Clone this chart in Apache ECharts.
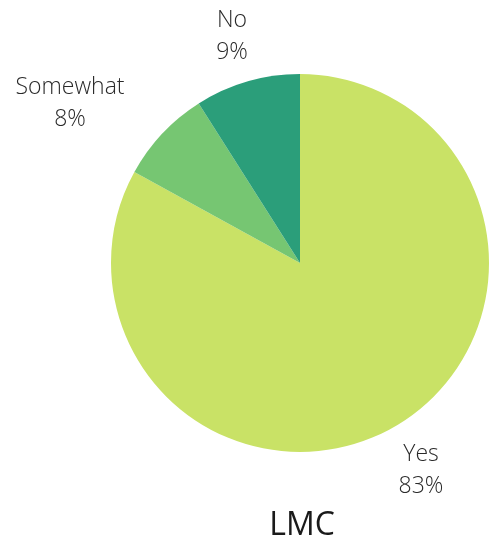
<!DOCTYPE html>
<html>
<head>
<meta charset="utf-8">
<script src="https://cdn.jsdelivr.net/npm/echarts@6/dist/echarts.min.js"></script>
<style>
  html, body { margin: 0; padding: 0; background: #fff; }
  #chart { width: 498px; height: 540px; }
</style>
</head>
<body>
<div id="chart"></div>
<script>
// Survey answers for LMC
const categories = ['Yes', 'Somewhat', 'No'];
const shares = [83, 8, 9];
const sliceColors = ['#c9e266', '#76c672', '#2b9e7a'];
const chartTitle = 'LMC';

// Label offsets from the pie centre, one per slice
const labelOffsets = [[121, 207], [-230, -160], [-68, -227]];
const center = [300, 263];

const chart = echarts.init(document.getElementById('chart'), null, { renderer: 'canvas' });

chart.setOption({
  animation: false,
  title: {
    text: chartTitle,
    left: 297,
    textAlign: 'center',
    top: 505,
    textStyle: { fontFamily: 'Open Sans', fontSize: 32, fontWeight: 'normal', color: '#1a1a1a' }
  },
  series: [{
    type: 'pie',
    center: center,
    radius: [0, 189],
    startAngle: 90,
    clockwise: true,
    data: categories.map((name, i) => ({
      name: name,
      value: shares[i],
      itemStyle: { color: sliceColors[i] }
    })),
    label: {
      show: true,
      position: 'outside',
      formatter: '{b}\n{c}%',
      fontFamily: 'Open Sans',
      fontSize: 23,
      fontWeight: 300,
      lineHeight: 32,
      color: '#2a2a2a',
      align: 'center',
      width: 160,
      overflow: 'none'
    },
    labelLine: { show: false },
    labelLayout: (params) => {
      const off = labelOffsets[params.dataIndex];
      return {
        x: center[0] + off[0],
        y: center[1] + off[1],
        align: 'center',
        verticalAlign: 'middle'
      };
    },
    emphasis: { disabled: true }
  }]
});
</script>
</body>
</html>
